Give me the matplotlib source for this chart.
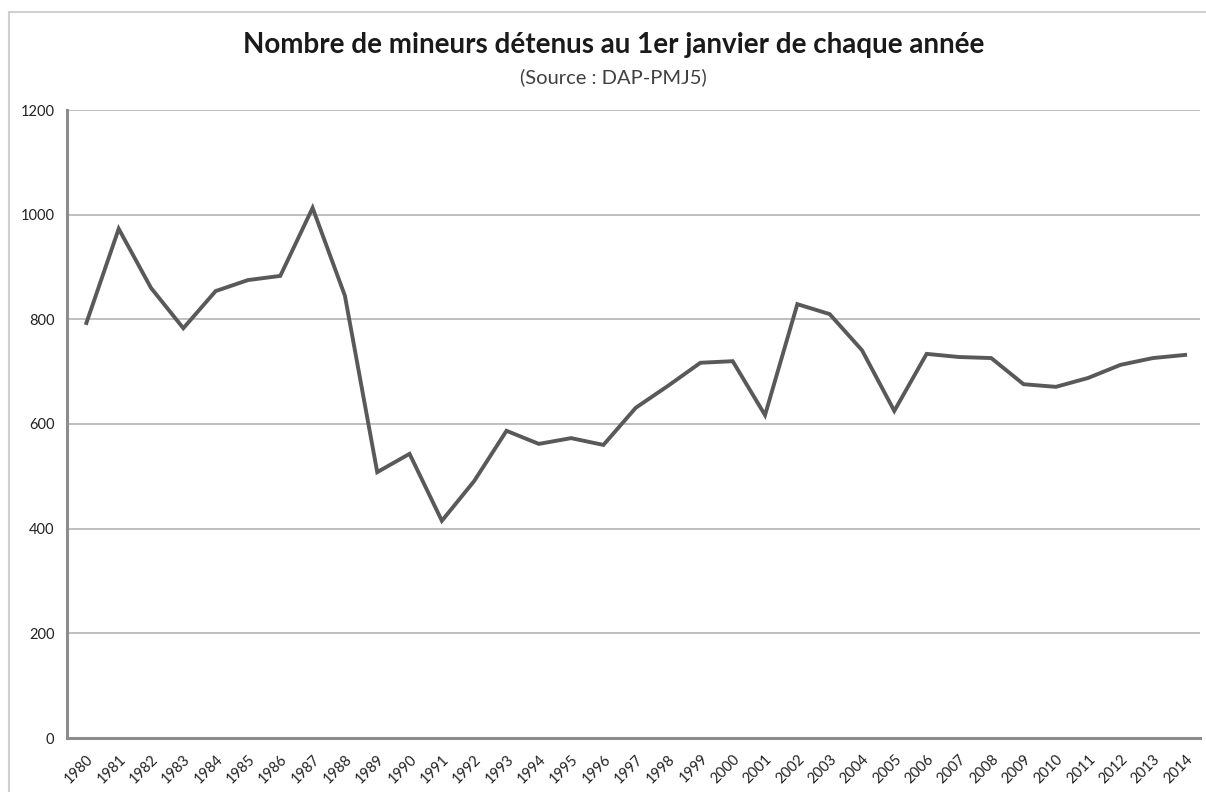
import matplotlib
matplotlib.use("Agg")
from matplotlib import pyplot as plt
from matplotlib.patches import Rectangle
from matplotlib.transforms import ScaledTranslation

# values
years = list(range(1980, 2015))
mineurs = [793, 973, 860, 783, 854, 875, 883, 1013, 845, 508,
           543, 415, 491, 587, 562, 573, 560, 631, 673, 717,
           720, 617, 829, 810, 741, 625, 734, 728, 726, 676,
           671, 688, 713, 726, 732]
yticks = [0, 200, 400, 600, 800, 1000, 1200]

plt.rcParams['font.family'] = ['Lato', 'DejaVu Sans']

fig = plt.figure(figsize=(12.06, 7.92), dpi=100)
# light frame around the chart area
fig.patches.append(Rectangle((9 / 1206, -0.01), 1.1, 1 - 12 / 792 + 0.01,
                             transform=fig.transFigure, fill=False,
                             edgecolor="#d0d0d0", linewidth=1.5))

ax = fig.add_axes([67 / 1206, 1 - 738 / 792, (1200 - 67) / 1206, (738 - 110) / 792])
ax.plot(years, mineurs, color="#595959", linewidth=2.8, solid_joinstyle="miter")

ax.set_ylim(0, 1200)
ax.set_xlim(1979.4, 2014.46)
ax.set_yticks(yticks)
ax.set_xticks(years)
ax.set_xticklabels([str(y) for y in years], rotation=45, ha="right", va="top",
                   rotation_mode="anchor", fontsize=10.5, color="#222222")
# nudge the slanted labels a little to the right, like the original
shift = ScaledTranslation(4 / 72, 0, fig.dpi_scale_trans)
for lab in ax.get_xticklabels():
    lab.set_transform(lab.get_transform() + shift)
ax.tick_params(axis="y", labelsize=10.5, length=0, pad=9, labelcolor="#222222")
ax.tick_params(axis="x", length=0, pad=10)
ax.grid(axis="y", color="#bfbfbf", linewidth=1.4)
ax.set_axisbelow(True)

for side in ["top", "right"]:
    ax.spines[side].set_visible(False)
for side in ["left", "bottom"]:
    ax.spines[side].set_color("#8c8c8c")
    ax.spines[side].set_linewidth(2.2)

fig.text(0.509, 1 - 45 / 792, "Nombre de mineurs détenus au 1er janvier de chaque année",
         ha="center", va="center", fontsize=20, fontweight="bold", color="#1a1a1a")
fig.text(0.509, 1 - 77 / 792, "(Source : DAP-PMJ5)",
         ha="center", va="center", fontsize=14.5, color="#404040")

fig.savefig("out.png", dpi=100)
